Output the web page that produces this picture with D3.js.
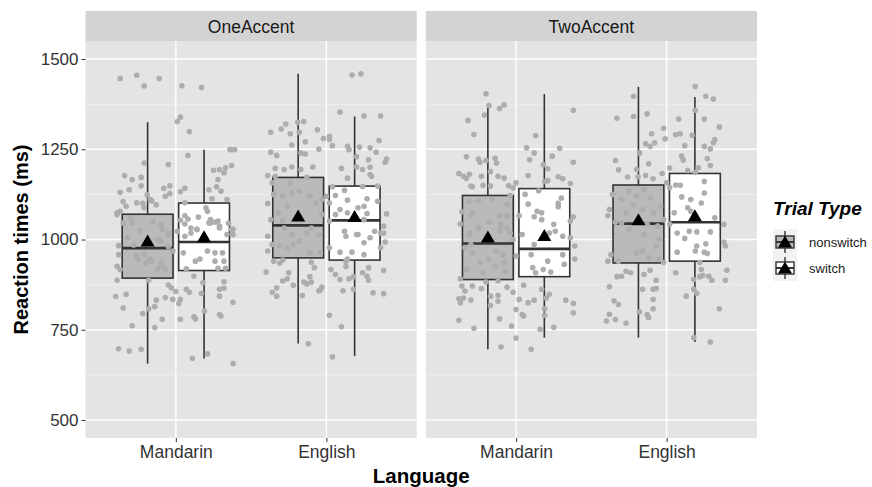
<!DOCTYPE html>
<html>
<head>
<meta charset="utf-8">
<script src="https://cdn.jsdelivr.net/npm/d3@7"></script>
<style>
body { margin: 0; background: #fff; }
svg { display: block; font-family: 'Liberation Sans', Arial, sans-serif; }
</style>
</head>
<body>
<div id="chart"></div>
<script>
// ---- data ----
let facets = ['OneAccent', 'TwoAccent'];
let languages = ['Mandarin', 'English'];
let trialTypes = ['nonswitch', 'switch'];
let yTickValues = [500, 750, 1000, 1250, 1500];
let yMinorValues = [625, 875, 1125, 1375];

// box statistics, ordered facet > language > trial type
let whiskerLow = [656, 670, 712, 677, 696, 728, 728, 716];
let boxQ1 = [893, 914, 949, 943, 889, 897, 935, 940];
let boxMedian = [976, 993, 1039, 1053, 989, 974, 1044, 1048];
let boxQ3 = [1070, 1101, 1172, 1148, 1122, 1141, 1151, 1183];
let whiskerHigh = [1325, 1249, 1459, 1341, 1373, 1403, 1423, 1395];
let groupMeans = [993, 1005, 1062, 1061, 1004, 1008, 1052, 1063];

// raw trials: [jitter (in category steps, from language centre), RT ms]
let oneMandarinNonswitch = [[-0.37,1446],[-0.26,1455],[-0.21,1425],[-0.11,1446],[-0.21,1212],[-0.05,1208],[-0.34,1177],[-0.29,1166],[-0.23,1172],[-0.23,1149],[-0.37,1131],[-0.31,1138],[-0.08,1142],[-0.04,1149],[-0.07,1120],[-0.04,1127],[-0.19,1124],[-0.17,1111],[-0.16,1107],[-0.26,1102],[-0.22,1100],[-0.13,1096],[-0.35,1105],[-0.33,1092],[-0.37,1078],[-0.39,1069],[-0.35,1046],[-0.09,1028],[-0.05,1014],[-0.10,995],[-0.38,983],[-0.05,980],[-0.02,968],[-0.38,958],[-0.21,958],[-0.25,945],[-0.20,936],[-0.16,940],[-0.39,926],[-0.37,917],[-0.09,926],[-0.12,919],[-0.39,887],[-0.18,887],[-0.05,874],[-0.03,866],[0.00,856],[-0.40,842],[-0.33,848],[-0.07,839],[-0.13,832],[-0.35,810],[-0.14,814],[-0.18,808],[-0.22,795],[-0.09,779],[-0.29,761],[-0.14,756],[-0.38,697],[-0.31,691],[-0.23,696],[-0.02,834],[-0.30,1060],[-0.15,1050],[-0.24,1025],[-0.32,1005],[-0.39,1074],[-0.29,1046],[-0.21,1088],[-0.10,1042],[-0.05,1018],[-0.26,954],[-0.17,945],[-0.10,936],[-0.07,917],[-0.28,985],[-0.12,1000]];
let oneMandarinSwitch = [[0.04,1426],[0.17,1421],[0.01,1327],[0.03,1339],[0.09,1299],[0.08,1233],[0.36,1249],[0.39,1249],[0.37,1205],[0.25,1192],[0.29,1194],[0.33,1199],[0.32,1185],[0.28,1166],[0.27,1146],[0.22,1138],[0.30,1134],[0.24,1113],[0.34,1111],[0.20,1088],[0.21,1078],[0.06,1066],[0.08,1057],[0.15,1062],[0.23,1055],[0.28,1051],[0.35,1045],[0.06,1043],[0.10,1032],[0.14,1028],[0.22,1046],[0.26,1048],[0.29,1032],[0.37,1028],[0.34,1014],[0.03,1053],[0.01,1023],[0.03,1132],[0.06,1142],[0.06,1102],[0.03,834],[0.03,779],[0.02,823],[0.07,862],[0.09,854],[0.12,786],[0.13,780],[0.17,851],[0.18,880],[0.19,802],[0.21,683],[0.11,671],[0.29,792],[0.30,788],[0.29,843],[0.29,862],[0.32,865],[0.32,883],[0.38,826],[0.38,656],[0.07,919],[0.12,898],[0.05,963],[0.13,940],[0.16,946],[0.26,940],[0.32,940],[0.28,920],[0.33,920],[0.21,968],[0.26,963],[0.31,963],[0.38,1014],[0.10,1018],[0.06,1009],[0.14,1028],[0.23,1046],[0.29,1037],[0.38,1028]];
let oneEnglishNonswitch = [[-0.19,1325],[-0.15,1327],[-0.27,1320],[-0.30,1306],[-0.24,1293],[-0.37,1297],[-0.18,1297],[-0.06,1304],[-0.23,1262],[-0.14,1271],[-0.05,1250],[-0.02,1280],[-0.37,1242],[-0.33,1233],[-0.17,1240],[-0.14,1237],[-0.34,1197],[-0.28,1194],[-0.23,1201],[-0.17,1194],[-0.09,1201],[-0.39,1177],[-0.34,1175],[-0.13,1172],[-0.36,1157],[-0.24,1157],[-0.18,1134],[-0.23,1129],[-0.29,1120],[-0.39,1100],[-0.35,1125],[-0.32,1074],[-0.26,1092],[-0.11,1120],[-0.07,1101],[-0.03,1111],[0.00,1120],[-0.03,1069],[-0.37,1055],[-0.29,1051],[-0.39,1009],[-0.36,986],[-0.39,968],[-0.28,1032],[-0.23,1014],[-0.13,1018],[-0.10,1032],[-0.05,1014],[-0.18,995],[-0.22,986],[-0.26,977],[-0.31,982],[-0.11,963],[-0.04,963],[-0.35,940],[-0.31,935],[-0.29,943],[-0.10,937],[-0.08,922],[-0.40,910],[-0.25,908],[-0.29,885],[-0.26,891],[-0.22,873],[-0.15,882],[-0.11,897],[-0.10,882],[-0.33,866],[-0.36,854],[-0.33,843],[-0.16,845],[-0.13,877],[-0.05,858],[-0.04,860],[-0.03,868],[-0.12,711]];
let oneEnglishSwitch = [[0.02,1101],[0.17,1456],[0.23,1459],[0.09,1353],[0.25,1342],[0.36,1342],[0.02,1286],[0.04,1260],[0.02,1277],[0.14,1258],[0.15,1249],[0.22,1256],[0.29,1254],[0.33,1242],[0.35,1274],[0.20,1229],[0.28,1221],[0.40,1223],[0.39,1214],[0.10,1197],[0.20,1201],[0.24,1194],[0.29,1200],[0.29,1180],[0.30,1175],[0.14,1170],[0.04,1146],[0.12,1136],[0.24,1147],[0.34,1148],[0.06,1122],[0.14,1109],[0.27,1113],[0.34,1106],[0.09,1083],[0.14,1074],[0.21,1088],[0.25,1092],[0.27,1072],[0.40,1071],[0.06,1069],[0.02,1051],[0.25,1055],[0.38,1037],[0.12,1023],[0.21,1014],[0.36,1018],[0.13,1009],[0.20,1014],[0.25,991],[0.29,1005],[0.32,1023],[0.38,1018],[0.39,993],[0.09,965],[0.17,965],[0.25,958],[0.36,977],[0.02,977],[0.03,917],[0.06,903],[0.09,889],[0.13,940],[0.14,946],[0.13,925],[0.15,891],[0.18,897],[0.28,922],[0.24,908],[0.27,898],[0.28,887],[0.38,914],[0.18,862],[0.11,858],[0.31,852],[0.38,850],[0.10,758],[0.02,790],[0.04,675]];
let twoMandarinNonswitch = [[-0.20,1404],[-0.18,1371],[-0.11,1363],[-0.08,1373],[-0.21,1345],[-0.32,1330],[-0.28,1291],[-0.33,1229],[-0.25,1223],[-0.24,1214],[-0.20,1219],[-0.14,1225],[-0.13,1212],[-0.17,1188],[-0.38,1183],[-0.35,1175],[-0.31,1181],[-0.33,1169],[-0.30,1148],[-0.29,1146],[-0.23,1175],[-0.22,1150],[-0.17,1148],[-0.12,1175],[-0.08,1170],[-0.05,1149],[-0.02,1143],[0.00,1157],[-0.04,1122],[-0.31,1106],[-0.25,1108],[-0.16,1111],[-0.06,1097],[-0.36,1077],[-0.29,1074],[-0.30,1069],[-0.37,1043],[-0.31,1018],[-0.25,1034],[-0.18,1048],[-0.11,1065],[-0.10,1042],[-0.06,1065],[-0.06,1032],[-0.11,1023],[-0.04,1018],[-0.31,1014],[-0.25,1032],[-0.10,1037],[-0.34,977],[-0.29,963],[-0.30,986],[-0.13,968],[-0.09,958],[-0.18,945],[-0.24,936],[-0.14,926],[-0.08,936],[-0.07,912],[-0.22,908],[-0.33,917],[-0.37,891],[-0.12,885],[-0.20,882],[-0.36,871],[-0.29,871],[-0.23,864],[-0.34,857],[-0.38,836],[-0.35,838],[-0.37,825],[-0.30,832],[-0.17,843],[-0.12,845],[-0.12,829],[-0.17,817],[-0.06,868],[-0.02,854],[0.00,806],[-0.11,780],[-0.38,776],[-0.28,754],[-0.10,702],[0.00,727],[-0.03,760],[-0.02,1000],[0.00,954]];
let twoMandarinSwitch = [[0.38,1358],[0.13,1288],[0.07,1254],[0.12,1240],[0.09,1221],[0.29,1253],[0.24,1231],[0.38,1214],[0.18,1207],[0.21,1196],[0.08,1177],[0.28,1174],[0.31,1168],[0.36,1155],[0.19,1161],[0.21,1163],[0.08,1098],[0.30,1115],[0.28,1091],[0.14,1078],[0.17,1074],[0.12,1063],[0.17,1055],[0.38,1063],[0.36,1051],[0.25,1042],[0.26,1023],[0.02,1066],[0.04,1014],[0.31,1009],[0.22,1018],[0.12,986],[0.36,1005],[0.39,982],[0.10,958],[0.21,940],[0.31,958],[0.39,946],[0.32,931],[0.11,922],[0.13,908],[0.18,917],[0.23,910],[0.05,873],[0.02,834],[0.08,825],[0.12,832],[0.20,838],[0.22,848],[0.19,808],[0.19,790],[0.17,862],[0.33,832],[0.38,823],[0.38,797],[0.25,757],[0.16,751],[0.10,696],[0.05,788],[0.04,792],[0.28,1100],[0.06,1125],[0.15,1135]];
let twoEnglishNonswitch = [[-0.22,1397],[-0.33,1336],[-0.22,1341],[-0.13,1348],[-0.10,1293],[-0.02,1308],[-0.01,1279],[-0.14,1265],[-0.11,1258],[-0.08,1268],[-0.18,1240],[-0.34,1219],[-0.32,1193],[-0.12,1210],[-0.20,1194],[-0.26,1173],[-0.19,1174],[-0.14,1177],[-0.09,1168],[-0.03,1183],[0.00,1157],[0.02,1144],[-0.36,1125],[-0.38,1083],[-0.39,1066],[-0.30,1111],[-0.25,1134],[-0.20,1120],[-0.15,1138],[-0.11,1115],[-0.22,1097],[-0.16,1083],[-0.27,1074],[-0.09,1074],[-0.04,1092],[-0.02,1055],[-0.30,1046],[-0.13,1042],[-0.06,1037],[-0.34,1048],[-0.25,1028],[-0.15,1014],[-0.05,1000],[-0.20,963],[-0.16,968],[-0.07,982],[-0.39,940],[-0.37,958],[-0.32,940],[-0.12,949],[-0.05,945],[-0.02,936],[-0.27,912],[-0.24,908],[-0.33,897],[-0.30,898],[-0.15,903],[-0.11,915],[-0.07,887],[-0.38,869],[-0.16,862],[-0.09,862],[-0.07,864],[-0.09,834],[-0.35,830],[-0.32,820],[-0.09,808],[-0.18,800],[-0.13,792],[-0.12,784],[-0.38,793],[-0.40,774],[-0.34,778],[-0.27,768]];
let twoEnglishSwitch = [[0.19,1424],[0.26,1397],[0.31,1389],[0.19,1358],[0.08,1334],[0.25,1334],[0.35,1312],[0.06,1290],[0.09,1293],[0.17,1289],[0.12,1260],[0.32,1277],[0.31,1268],[0.25,1258],[0.29,1251],[0.10,1231],[0.11,1220],[0.27,1224],[0.29,1205],[0.21,1199],[0.02,1198],[0.19,1186],[0.14,1191],[0.06,1151],[0.09,1150],[0.25,1161],[0.25,1129],[0.16,1111],[0.23,1101],[0.10,1118],[0.05,1074],[0.14,1088],[0.16,1078],[0.32,1060],[0.38,1042],[0.07,1018],[0.15,1023],[0.20,1021],[0.29,1021],[0.02,1043],[0.12,1003],[0.07,965],[0.20,982],[0.26,988],[0.19,968],[0.25,965],[0.27,961],[0.38,993],[0.39,982],[0.22,936],[0.23,917],[0.18,889],[0.22,897],[0.24,900],[0.28,898],[0.30,887],[0.40,915],[0.39,887],[0.06,908],[0.18,862],[0.20,851],[0.13,843],[0.35,808],[0.18,728],[0.29,716]];

let groupPoints = [oneMandarinNonswitch, oneMandarinSwitch, oneEnglishNonswitch, oneEnglishSwitch,
    twoMandarinNonswitch, twoMandarinSwitch, twoEnglishNonswitch, twoEnglishSwitch];

// ---- layout ----
let width = 872;
let height = 487;
let panelTop = 41;
let panelBottom = 438;
let stripTop = 11;

let svg = d3.select('#chart')
    .append('svg')
    .attr('width', width)
    .attr('height', height);

let panelScale = d3.scaleBand()
    .domain(facets)
    .range([85.5, 757])
    .paddingInner(0.0265);

let yScale = d3.scaleLinear()
    .domain([450, 1550])
    .range([panelBottom, panelTop]);

let xScale = d3.scalePoint()
    .domain(languages)
    .range([0, panelScale.bandwidth()])
    .padding(0.6);
let step = xScale.step();
let dodge = d3.scalePoint()
    .domain(trialTypes)
    .range([-0.1875 * step, 0.1875 * step]);
let boxWidth = 0.3375 * step;
let fills = { nonswitch: '#bababa', switch: '#ffffff' };
let ink = '#333333';
let pointColour = '#adadad';

let groups = [];
facets.forEach((f, fi) => {
    languages.forEach((l, li) => {
        trialTypes.forEach((t, ti) => {
            let i = fi * 4 + li * 2 + ti;
            groups.push({
                facet: f, language: l, trial: t,
                low: whiskerLow[i], q1: boxQ1[i], median: boxMedian[i],
                q3: boxQ3[i], high: whiskerHigh[i], mean: groupMeans[i],
                points: groupPoints[i]
            });
        });
    });
});

let trianglePath = 'M0,-7.5L7,4.5L-7,4.5Z';

facets.forEach(f => {
    let panel = svg.append('g')
        .classed('panel', true)
        .attr('transform', `translate(${panelScale(f)},0)`);
    let pw = panelScale.bandwidth();

    panel.append('rect')
        .attr('x', 0).attr('y', panelTop)
        .attr('width', pw).attr('height', panelBottom - panelTop)
        .attr('fill', '#e4e4e4');

    // strip
    panel.append('rect')
        .attr('x', 0).attr('y', stripTop)
        .attr('width', pw).attr('height', panelTop - stripTop)
        .attr('fill', '#d3d3d3');
    panel.append('text')
        .attr('x', pw / 2).attr('y', 33)
        .attr('text-anchor', 'middle')
        .attr('font-size', 17.5)
        .attr('fill', '#1a1a1a')
        .text(f);

    // grid
    panel.selectAll('.minor')
        .data(yMinorValues)
        .enter().append('line')
        .attr('x1', 0).attr('x2', pw)
        .attr('y1', d => yScale(d)).attr('y2', d => yScale(d))
        .attr('stroke', '#f4f4f4').attr('stroke-width', 0.7);
    panel.selectAll('.major')
        .data(yTickValues)
        .enter().append('line')
        .attr('x1', 0).attr('x2', pw)
        .attr('y1', d => yScale(d)).attr('y2', d => yScale(d))
        .attr('stroke', '#ffffff').attr('stroke-width', 1.4);
    panel.selectAll('.vmajor')
        .data(languages)
        .enter().append('line')
        .attr('x1', d => xScale(d)).attr('x2', d => xScale(d))
        .attr('y1', panelTop).attr('y2', panelBottom)
        .attr('stroke', '#ffffff').attr('stroke-width', 1.4);

    let fg = groups.filter(g => g.facet === f);
    let cx = g => xScale(g.language) + dodge(g.trial);

    // boxes
    let boxes = panel.selectAll('.box')
        .data(fg)
        .enter().append('g')
        .classed('box', true);
    boxes.append('line')
        .attr('x1', cx).attr('x2', cx)
        .attr('y1', d => yScale(d.high)).attr('y2', d => yScale(d.q3))
        .attr('stroke', ink).attr('stroke-width', 1.6);
    boxes.append('line')
        .attr('x1', cx).attr('x2', cx)
        .attr('y1', d => yScale(d.q1)).attr('y2', d => yScale(d.low))
        .attr('stroke', ink).attr('stroke-width', 1.6);
    boxes.append('rect')
        .attr('x', d => cx(d) - boxWidth / 2)
        .attr('y', d => yScale(d.q3))
        .attr('width', boxWidth)
        .attr('height', d => yScale(d.q1) - yScale(d.q3))
        .attr('fill', d => fills[d.trial])
        .attr('stroke', ink).attr('stroke-width', 1.6);
    boxes.append('line')
        .attr('x1', d => cx(d) - boxWidth / 2).attr('x2', d => cx(d) + boxWidth / 2)
        .attr('y1', d => yScale(d.median)).attr('y2', d => yScale(d.median))
        .attr('stroke', ink).attr('stroke-width', 2.6);

    // jittered trials
    fg.forEach(g => {
        panel.append('g')
            .selectAll('circle')
            .data(g.points)
            .enter().append('circle')
            .attr('cx', d => xScale(g.language) + d[0] * step)
            .attr('cy', d => yScale(d[1]))
            .attr('r', 2.8)
            .attr('fill', pointColour);
    });

    // means
    panel.selectAll('.mean')
        .data(fg)
        .enter().append('path')
        .attr('d', trianglePath)
        .attr('transform', d => `translate(${cx(d)},${yScale(d.mean)})`)
        .attr('fill', '#000');

    // x axis
    let xAxis = d3.axisBottom(xScale).tickSize(4).tickPadding(4);
    let xg = panel.append('g')
        .attr('transform', `translate(0,${panelBottom})`)
        .call(xAxis);
    xg.select('.domain').remove();
    xg.selectAll('line').attr('stroke', ink);
    xg.selectAll('text')
        .attr('font-size', 17.5)
        .attr('font-family', 'Liberation Sans, Arial, sans-serif')
        .attr('fill', '#333');
});

// y axis
let yAxis = d3.axisLeft(yScale)
    .tickValues(yTickValues)
    .tickFormat(d3.format('d'))
    .tickSize(4)
    .tickPadding(3);
let yg = svg.append('g')
    .attr('transform', `translate(${panelScale(facets[0])},0)`)
    .call(yAxis);
yg.select('.domain').remove();
yg.selectAll('line').attr('stroke', ink);
yg.selectAll('text')
    .attr('font-size', 17)
    .attr('font-family', 'Liberation Sans, Arial, sans-serif')
    .attr('fill', '#333');

// axis titles
svg.append('text')
    .attr('transform', `translate(28,${(panelTop + panelBottom) / 2}) rotate(-90)`)
    .attr('text-anchor', 'middle')
    .attr('font-size', 20)
    .attr('font-weight', 'bold')
    .attr('fill', '#000')
    .text('Reaction times (ms)');
svg.append('text')
    .attr('x', (panelScale(facets[0]) + panelScale(facets[1]) + panelScale.bandwidth()) / 2)
    .attr('y', 483)
    .attr('text-anchor', 'middle')
    .attr('font-size', 20.5)
    .attr('font-weight', 'bold')
    .attr('fill', '#000')
    .text('Language');

// legend
let legend = svg.append('g')
    .attr('transform', 'translate(773,0)');
legend.append('text')
    .attr('x', 0).attr('y', 215)
    .attr('font-size', 19)
    .attr('font-weight', 'bold')
    .attr('font-style', 'italic')
    .text('Trial Type');
let keyW = 24, keyH = 26;
let keys = legend.selectAll('.key')
    .data(trialTypes)
    .enter().append('g')
    .classed('key', true)
    .attr('transform', (d, i) => `translate(0,${229 + i * keyH})`);
keys.append('rect')
    .attr('width', keyW).attr('height', keyH)
    .attr('fill', '#f2f2f2');
keys.append('line')
    .attr('x1', keyW / 2).attr('x2', keyW / 2)
    .attr('y1', 2).attr('y2', keyH - 2)
    .attr('stroke', ink).attr('stroke-width', 1.4);
keys.append('rect')
    .attr('x', 3).attr('y', 7)
    .attr('width', keyW - 6).attr('height', keyH - 14)
    .attr('fill', d => fills[d])
    .attr('stroke', ink).attr('stroke-width', 1.4);
keys.append('line')
    .attr('x1', 3).attr('x2', keyW - 3)
    .attr('y1', keyH / 2).attr('y2', keyH / 2)
    .attr('stroke', ink).attr('stroke-width', 2);
keys.append('path')
    .attr('d', trianglePath)
    .attr('transform', `translate(${keyW / 2},${keyH / 2 + 1})`)
    .attr('fill', '#000');
keys.append('text')
    .attr('x', 36).attr('y', keyH / 2 + 5)
    .attr('font-size', 13)
    .attr('fill', '#1a1a1a')
    .text(d => d);
</script>
</body>
</html>
